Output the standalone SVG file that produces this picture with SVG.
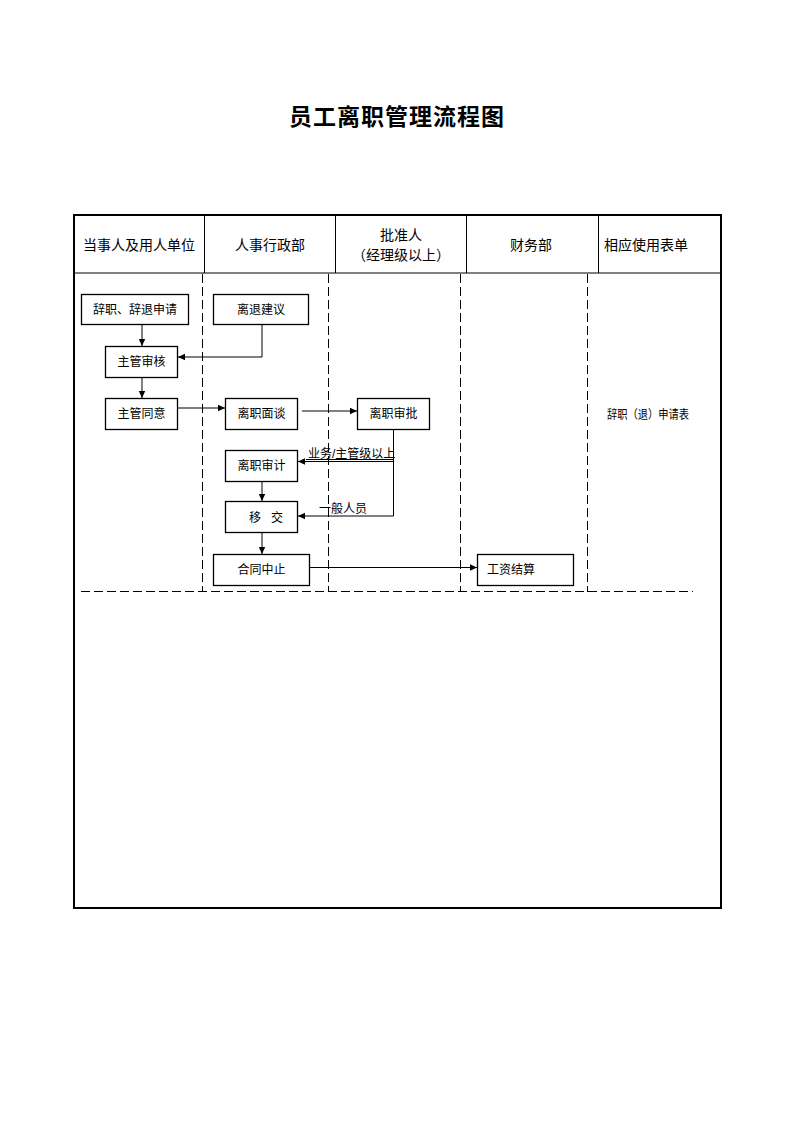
<svg xmlns="http://www.w3.org/2000/svg" width="794" height="1123" viewBox="0 0 794 1123">
<style>
.t{font-family:"Liberation Sans","Noto Sans CJK SC",sans-serif;fill:#000}
.h{font-size:14px;text-anchor:middle}
.b{font-size:12px;text-anchor:middle}
.box{fill:#fff;stroke:#000;stroke-width:1.3}
.ln{fill:none;stroke:#000;stroke-width:1}
.dash{fill:none;stroke:#000;stroke-width:1;stroke-dasharray:9,4}
</style>
<defs>
<marker id="ar" markerWidth="8" markerHeight="8" refX="7" refY="4" orient="auto" markerUnits="userSpaceOnUse">
<path d="M0,0.8 L7,4 L0,7.2 Z" fill="#000"/>
</marker>
</defs>
<rect width="794" height="1123" fill="#fff"/>
<text class="t" x="397" y="125" font-size="23" font-weight="bold" text-anchor="middle" font-family="'Noto Serif CJK SC','Noto Sans CJK SC',serif" letter-spacing="1">员工离职管理流程图</text>
<g id="table">
<rect x="74" y="215" width="647" height="693" fill="none" stroke="#000" stroke-width="2"/>
<line class="ln" x1="74" y1="273" x2="721" y2="273"/>
<line class="ln" x1="204.5" y1="215" x2="204.5" y2="273"/>
<line class="ln" x1="335.5" y1="215" x2="335.5" y2="273"/>
<line class="ln" x1="466.5" y1="215" x2="466.5" y2="273"/>
<line class="ln" x1="598.5" y1="215" x2="598.5" y2="273"/>
<text class="t h" x="139" y="250">当事人及用人单位</text>
<text class="t h" x="270" y="250" font-size="16">人事行政部</text>
<text class="t h" x="401" y="240">批准人</text>
<text class="t h" x="401" y="260">（经理级以上）</text>
<text class="t h" x="531" y="250">财务部</text>
<text class="t h" x="646" y="250">相应使用表单</text>
</g>
<g id="lanes">
<line class="dash" x1="202.5" y1="274" x2="202.5" y2="592"/>
<line class="dash" x1="328.5" y1="274" x2="328.5" y2="592"/>
<line class="dash" x1="460.5" y1="274" x2="460.5" y2="592"/>
<line class="dash" x1="587.5" y1="274" x2="587.5" y2="592"/>
<line class="dash" x1="81" y1="591.5" x2="693" y2="591.5"/>
</g>
<g id="connectors">
<line class="ln" x1="142" y1="324" x2="142" y2="346" marker-end="url(#ar)"/>
<polyline class="ln" points="262,324 262,357 178,357" marker-end="url(#ar)"/>
<line class="ln" x1="142" y1="377" x2="142" y2="398" marker-end="url(#ar)"/>
<line class="ln" x1="178" y1="408" x2="225" y2="408" marker-end="url(#ar)"/>
<line class="ln" x1="302" y1="411" x2="357" y2="411" marker-end="url(#ar)"/>
<line class="ln" x1="393.5" y1="429" x2="393.5" y2="516"/>
<line class="ln" x1="393.5" y1="459.5" x2="306" y2="459.5"/>
<line class="ln" x1="393.5" y1="461.5" x2="298" y2="461.5" marker-end="url(#ar)"/>
<line class="ln" x1="393.5" y1="516" x2="298" y2="516" marker-end="url(#ar)"/>
<line class="ln" x1="262" y1="481" x2="262" y2="501" marker-end="url(#ar)"/>
<line class="ln" x1="262" y1="532" x2="262" y2="554" marker-end="url(#ar)"/>
<line class="ln" x1="309" y1="567.5" x2="477" y2="567.5" marker-end="url(#ar)"/>
<text class="t" x="308" y="458" font-size="12">业务/主管级以上</text>
<text class="t" x="319" y="513" font-size="12">一般人员</text>
</g>
<g id="n1"><rect class="box" x="81.5" y="294.5" width="107" height="30"/><text class="t b" x="135" y="314">辞职、辞退申请</text></g>
<g id="n2"><rect class="box" x="213.5" y="294.5" width="95" height="30"/><text class="t b" x="261" y="314">离退建议</text></g>
<g id="n3"><rect class="box" x="105.5" y="346.5" width="72" height="31"/><text class="t b" x="141.5" y="366">主管审核</text></g>
<g id="n4"><rect class="box" x="105.5" y="398.5" width="72" height="31"/><text class="t b" x="141.5" y="418">主管同意</text></g>
<g id="n5"><rect class="box" x="225.5" y="398.5" width="72" height="31"/><text class="t b" x="261.5" y="418">离职面谈</text></g>
<g id="n6"><rect class="box" x="357.5" y="398.5" width="72" height="31"/><text class="t b" x="393.5" y="418">离职审批</text></g>
<g id="n7"><rect class="box" x="225.5" y="450.5" width="72" height="31"/><text class="t b" x="261.5" y="470">离职审计</text></g>
<g id="n8"><rect class="box" x="225.5" y="501.5" width="72" height="31"/><text class="t b" x="266" y="522" xml:space="preserve">移   交</text></g>
<g id="n9"><rect class="box" x="213.5" y="554.5" width="96" height="31"/><text class="t b" x="261.5" y="574">合同中止</text></g>
<g id="n10"><rect class="box" x="477.5" y="554.5" width="96" height="31"/><text class="t b" x="511" y="574">工资结算</text></g>
<g id="form"><text class="t" x="607" y="419" font-size="12" textLength="82" lengthAdjust="spacingAndGlyphs">辞职（退）申请表</text></g>
</svg>
